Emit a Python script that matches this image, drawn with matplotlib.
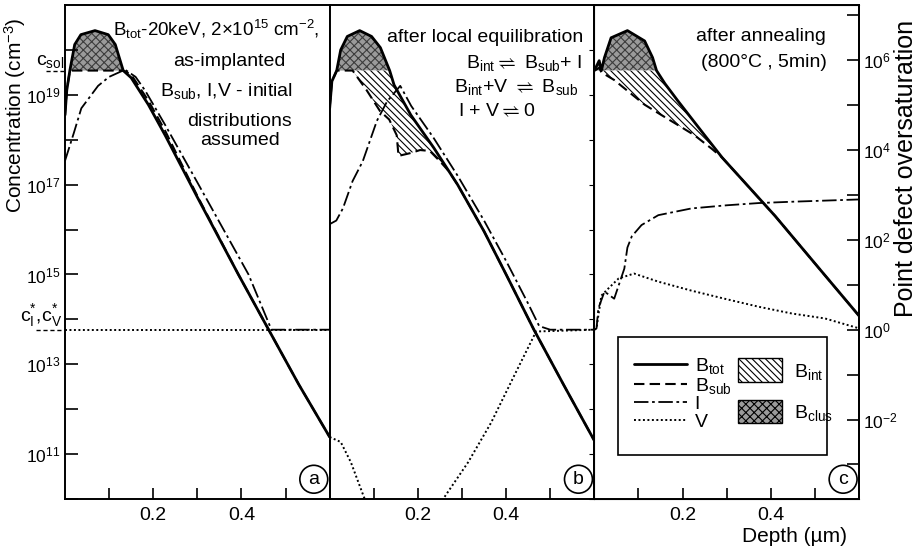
import numpy as np
import matplotlib
matplotlib.use("Agg")
import matplotlib.pyplot as plt
import matplotlib.transforms as mtransforms
from matplotlib.lines import Line2D
from matplotlib.patches import Patch, Rectangle
from matplotlib.ticker import FixedLocator, FixedFormatter, NullLocator

plt.rcParams["font.family"] = ["Liberation Sans", "DejaVu Sans"]
plt.rcParams["mathtext.fontset"] = "custom"
plt.rcParams["mathtext.rm"] = "Liberation Sans"
plt.rcParams["mathtext.it"] = "Liberation Sans:italic"
plt.rcParams["mathtext.bf"] = "Liberation Sans:bold"
plt.rcParams["mathtext.fallback"] = "stixsans"
plt.rcParams["hatch.linewidth"] = 0.8

# all concentrations are log10(cm^-3), depth in um
C_SOL = 19.54
C_STAR = 13.77

# (a) as-implanted
depth_tot_a = [0, 0.004, 0.011, 0.022, 0.036, 0.068, 0.098, 0.114, 0.132, 0.15, 0.189, 0.227, 0.3, 0.393, 0.46, 0.53, 0.6]
logc_tot_a = [18.55, 19.1, 19.54, 20.12, 20.34, 20.43, 20.34, 20.12, 19.54, 19.38, 18.78, 18.1, 16.72, 15.0, 13.8, 12.55, 11.38]
depth_sub_a = [0, 0.004, 0.011, 0.132, 0.15, 0.189, 0.227, 0.3, 0.393, 0.46, 0.53, 0.6]
logc_sub_a = [18.55, 19.1, 19.54, 19.54, 19.45, 18.87, 18.2, 16.75, 15.0, 13.8, 12.55, 11.38]
depth_i_a = [0, 0.02, 0.037, 0.075, 0.1, 0.136, 0.16, 0.182, 0.227, 0.3, 0.416, 0.468, 0.6]
logc_i_a = [17.53, 18.15, 18.7, 19.2, 19.4, 19.56, 19.4, 19.09, 18.33, 17.05, 15.0, 13.77, 13.77]
depth_v_a = [0, 0.6]
logc_v_a = [13.77, 13.77]

# (b) after local equilibration
depth_tot_b = [0, 0.005, 0.016, 0.025, 0.04, 0.068, 0.095, 0.115, 0.136, 0.146, 0.184, 0.236, 0.29, 0.35, 0.4, 0.463, 0.53, 0.6]
logc_tot_b = [18.7, 19.3, 19.54, 20.0, 20.3, 20.43, 20.3, 20.05, 19.54, 19.22, 18.55, 17.82, 17.0, 15.96, 15.0, 13.77, 12.55, 11.3]
depth_sub_b = [0, 0.005, 0.016, 0.052, 0.084, 0.114, 0.135, 0.152, 0.156, 0.182, 0.205, 0.227, 0.25, 0.27, 0.29, 0.35, 0.4, 0.463, 0.53, 0.6]
logc_sub_b = [18.7, 19.3, 19.54, 19.54, 19.1, 18.64, 18.45, 18.1, 17.64, 17.7, 17.77, 17.75, 17.52, 17.3, 17.0, 15.96, 15.0, 13.77, 12.55, 11.3]
depth_i_b = [0, 0.015, 0.03, 0.052, 0.075, 0.107, 0.13, 0.16, 0.185, 0.235, 0.29, 0.35, 0.4, 0.45, 0.475, 0.5, 0.6]
logc_i_b = [16.12, 16.2, 16.47, 17.08, 17.52, 18.42, 18.85, 19.2, 18.75, 18.05, 17.2, 16.2, 15.3, 14.35, 13.85, 13.77, 13.77]
depth_v_b = [0, 0.025, 0.048, 0.077, 0.1, 0.16, 0.2, 0.26, 0.314, 0.366, 0.418, 0.468, 0.6]
logc_v_b = [11.38, 11.27, 10.82, 10.06, 9.5, 8.4, 9.0, 10.04, 10.82, 11.7, 12.74, 13.73, 13.77]

# (c) after annealing 800 C, 5 min
depth_tot_c = [0, 0.011, 0.016, 0.023, 0.038, 0.075, 0.114, 0.132, 0.141, 0.16, 0.189, 0.25, 0.29, 0.35, 0.41, 0.51, 0.6]
logc_tot_c = [19.54, 19.76, 19.54, 19.83, 20.27, 20.43, 20.2, 19.83, 19.54, 19.25, 18.87, 18.1, 17.6, 16.95, 16.3, 15.13, 14.08]
depth_sub_c = [0, 0.011, 0.016, 0.045, 0.075, 0.114, 0.152, 0.189, 0.227, 0.266, 0.29, 0.35, 0.41, 0.51, 0.6]
logc_sub_c = [19.54, 19.6, 19.5, 19.33, 19.09, 18.78, 18.55, 18.33, 18.1, 17.8, 17.6, 16.95, 16.3, 15.13, 14.08]
depth_i_c = [0, 0.005, 0.009, 0.023, 0.045, 0.068, 0.075, 0.085, 0.107, 0.145, 0.22, 0.3, 0.373, 0.45, 0.6]
logc_i_c = [13.77, 13.8, 14.24, 14.62, 14.46, 15.13, 15.6, 15.85, 16.1, 16.32, 16.47, 16.54, 16.59, 16.62, 16.67]
depth_v_c = [0, 0.005, 0.009, 0.016, 0.032, 0.055, 0.09, 0.145, 0.22, 0.295, 0.373, 0.448, 0.523, 0.6]
logc_v_c = [13.77, 13.8, 14.08, 14.53, 14.69, 14.91, 15.02, 14.84, 14.64, 14.46, 14.28, 14.13, 14.02, 13.8]

panel_letters = ["a", "b", "c"]
conc_ticks = list(range(10, 21))
oversat_ticks = list(range(-3, 8))

CLUS_STYLE = dict(facecolor="#9a9a9a", edgecolor="#3c3c3c", hatch="xxxx", linewidth=0)
INT_STYLE = dict(facecolor="white", edgecolor="black", hatch="\\\\\\\\\\", linewidth=0)
STYLE_TOT = dict(color="black", lw=2.0, solid_capstyle="round")
STYLE_SUB = dict(color="black", lw=1.5, dashes=(5, 2.5))
STYLE_I = dict(color="black", lw=1.3, dashes=(8, 2, 1.5, 2))
STYLE_V = dict(color="black", lw=1.4, dashes=(1, 1.3))
FS = 14


def shade(ax, x_tot, y_tot, x_sub, y_sub, with_int=True):
    grid = np.union1d(x_tot, x_sub)
    tot = np.interp(grid, x_tot, y_tot)
    sub = np.interp(grid, x_sub, y_sub)
    ax.fill_between(grid, 10 ** C_SOL, 10 ** tot, where=tot > C_SOL + 1e-6,
                    interpolate=True, zorder=1, **CLUS_STYLE)
    if with_int:
        upper = np.minimum(tot, C_SOL)
        ax.fill_between(grid, 10 ** sub, 10 ** upper, where=upper > sub + 1e-6,
                        interpolate=True, zorder=1, **INT_STYLE)


def curves(ax, tot, sub, ii, vv):
    ax.plot(vv[0], 10 ** np.asarray(vv[1]), zorder=2, **STYLE_V)
    ax.plot(ii[0], 10 ** np.asarray(ii[1]), zorder=2, **STYLE_I)
    ax.plot(tot[0], 10 ** np.asarray(tot[1]), zorder=3, **STYLE_TOT)
    ax.plot(sub[0], 10 ** np.asarray(sub[1]), zorder=4, **STYLE_SUB)


fig, axes = plt.subplots(1, 3, figsize=(9.18, 5.5), dpi=100, sharey=True)
fig.subplots_adjust(left=65 / 918, right=859 / 918, bottom=1 - 499 / 550, top=1 - 5 / 550, wspace=0)
ax_a, ax_b, ax_c = axes

for ax, letter in zip(axes, panel_letters):
    ax.set_yscale("log")
    ax.set_xlim(0, 0.6)
    ax.set_ylim(1e10, 1e21)
    ax.set_xticks([0.1, 0.2, 0.3, 0.4, 0.5])
    ax.set_xticklabels(["", "0.2", "", "0.4", ""], fontsize=FS)
    ax.tick_params(axis="x", direction="in", length=8, width=1.2, pad=6)
    for sp in ax.spines.values():
        sp.set_linewidth(1.4)
    ax.text(0.94, 0.04, letter, transform=ax.transAxes, ha="center", va="center", fontsize=FS,
            bbox=dict(boxstyle="circle,pad=0.28", fc="white", ec="black", lw=1.2), zorder=6)

ax_a.yaxis.set_major_locator(FixedLocator([10.0 ** k for k in conc_ticks]))
ax_a.yaxis.set_major_formatter(FixedFormatter(
    [r"10$^{%d}$" % k if k % 2 == 1 else "" for k in conc_ticks]))
ax_a.yaxis.set_minor_locator(NullLocator())
ax_a.tick_params(axis="y", direction="in", length=9, width=1.2, labelsize=12.5, pad=3)
for ax in (ax_b, ax_c):
    ax.tick_params(axis="y", which="both", left=False, labelleft=False)

shade(ax_a, depth_tot_a, logc_tot_a, depth_sub_a, logc_sub_a, with_int=False)
curves(ax_a, (depth_tot_a, logc_tot_a), (depth_sub_a, logc_sub_a), (depth_i_a, logc_i_a), (depth_v_a, logc_v_a))
shade(ax_b, depth_tot_b, logc_tot_b, depth_sub_b, logc_sub_b)
curves(ax_b, (depth_tot_b, logc_tot_b), (depth_sub_b, logc_sub_b), (depth_i_b, logc_i_b), (depth_v_b, logc_v_b))
shade(ax_c, depth_tot_c, logc_tot_c, depth_sub_c, logc_sub_c)
curves(ax_c, (depth_tot_c, logc_tot_c), (depth_sub_c, logc_sub_c), (depth_i_c, logc_i_c), (depth_v_c, logc_v_c))

# reference levels on the left axis
blend = mtransforms.blended_transform_factory(ax_a.transAxes, ax_a.transData)
ax_a.plot([-0.07, 0], [10 ** C_SOL] * 2, transform=blend, clip_on=False, color="black", lw=1.0, dashes=(3, 2))
ax_a.plot([-0.11, 0], [10 ** C_STAR] * 2, transform=blend, clip_on=False, color="black", lw=1.0, dashes=(3, 2))
ax_a.text(-0.003, 10 ** (C_SOL + 0.02), r"c$_{\rm sol}$", transform=blend, ha="right", va="bottom", fontsize=FS)
ax_a.text(-0.01, 10 ** (C_STAR + 0.02), r"c$^{*}_{\rm I}$,c$^{*}_{\rm V}$", transform=blend,
          ha="right", va="bottom", fontsize=FS)

# right axis: oversaturation c/c*
ax_r = ax_c.twinx()
ax_r.set_yscale("log")
ax_r.set_ylim(10 ** (10 - C_STAR), 10 ** (21 - C_STAR))
ax_r.yaxis.set_major_locator(FixedLocator([10.0 ** k for k in oversat_ticks]))
ax_r.yaxis.set_major_formatter(FixedFormatter(
    [r"10$^{%d}$" % k if k % 2 == 0 else "" for k in oversat_ticks]))
ax_r.yaxis.set_minor_locator(NullLocator())
ax_r.tick_params(axis="y", direction="in", length=9, width=1.2, labelsize=12.5, pad=3)
ax_r.spines["right"].set_linewidth(1.4)

# annotations
ax_a.text(0.18, 0.95, r"B$_{\rm tot}$-20keV, 2$\times$10$^{15}$ cm$^{-2}$,", transform=ax_a.transAxes,
          ha="left", va="center", fontsize=13.5)
ax_a.text(0.62, 0.885, "as-implanted", transform=ax_a.transAxes, ha="center", va="center", fontsize=FS)
ax_a.text(0.61, 0.826, r"B$_{\rm sub}$, I,V - initial", transform=ax_a.transAxes, ha="center", va="center", fontsize=FS)
ax_a.text(0.66, 0.765, "distributions", transform=ax_a.transAxes, ha="center", va="center", fontsize=FS)
ax_a.text(0.66, 0.725, "assumed", transform=ax_a.transAxes, ha="center", va="center", fontsize=FS)

ax_b.text(0.96, 0.935, "after local equilibration", transform=ax_b.transAxes, ha="right", va="center", fontsize=FS)
ax_b.text(0.955, 0.883, r"B$_{\rm int}\rightleftharpoons$ B$_{\rm sub}$+ I", transform=ax_b.transAxes,
          ha="right", va="center", fontsize=FS)
ax_b.text(0.94, 0.833, r"B$_{\rm int}$+V $\rightleftharpoons$ B$_{\rm sub}$", transform=ax_b.transAxes,
          ha="right", va="center", fontsize=FS)
ax_b.text(0.63, 0.785, r"I + V$\rightleftharpoons$0", transform=ax_b.transAxes, ha="center", va="center", fontsize=FS)

ax_c.text(0.876, 0.937, "after annealing", transform=ax_c.transAxes, ha="right", va="center", fontsize=FS)
ax_c.text(0.88, 0.883, "(800°C , 5min)", transform=ax_c.transAxes, ha="right", va="center", fontsize=FS)

# legend box in panel c
ax_c.add_patch(Rectangle((0.09, 0.089), 0.79, 0.239, transform=ax_c.transAxes,
                         facecolor="white", edgecolor="black", lw=1.2, zorder=5))
line_handles = [Line2D([], [], **STYLE_TOT), Line2D([], [], **STYLE_SUB),
                Line2D([], [], **STYLE_I), Line2D([], [], **STYLE_V)]
leg1 = ax_c.legend(line_handles, [r"B$_{\rm tot}$", r"B$_{\rm sub}$", "I", "V"],
                   loc="upper left", bbox_to_anchor=(0.1, 0.318), frameon=False, fontsize=FS,
                   handlelength=2.7, handletextpad=0.4, labelspacing=0.0, borderpad=0.2)
leg1.set_zorder(6)
ax_c.add_artist(leg1)
patch_handles = [Patch(**INT_STYLE), Patch(**CLUS_STYLE)]
leg2 = ax_c.legend(patch_handles, [r"B$_{\rm int}$", r"B$_{\rm clus}$"],
                   loc="upper left", bbox_to_anchor=(0.49, 0.312), frameon=False, fontsize=FS,
                   handlelength=2.3, handleheight=1.5, handletextpad=0.6, labelspacing=0.9, borderpad=0.2)
leg2.set_zorder(6)
for h in leg2.legend_handles:
    h.set_linewidth(1.0)
    h.set_edgecolor("black")

fig.text(15 / 918, 1 - 115 / 550, r"Concentration (cm$^{-3}$)", rotation=90, ha="center", va="center", fontsize=15)
fig.text(906 / 918, 1 - 168 / 550, "Point defect oversaturation", rotation=90, ha="center", va="center", fontsize=18)
fig.text(794 / 918, 1 - 537 / 550, "Depth (µm)", ha="center", va="center", fontsize=15)

fig.savefig("out.png", dpi=100)
